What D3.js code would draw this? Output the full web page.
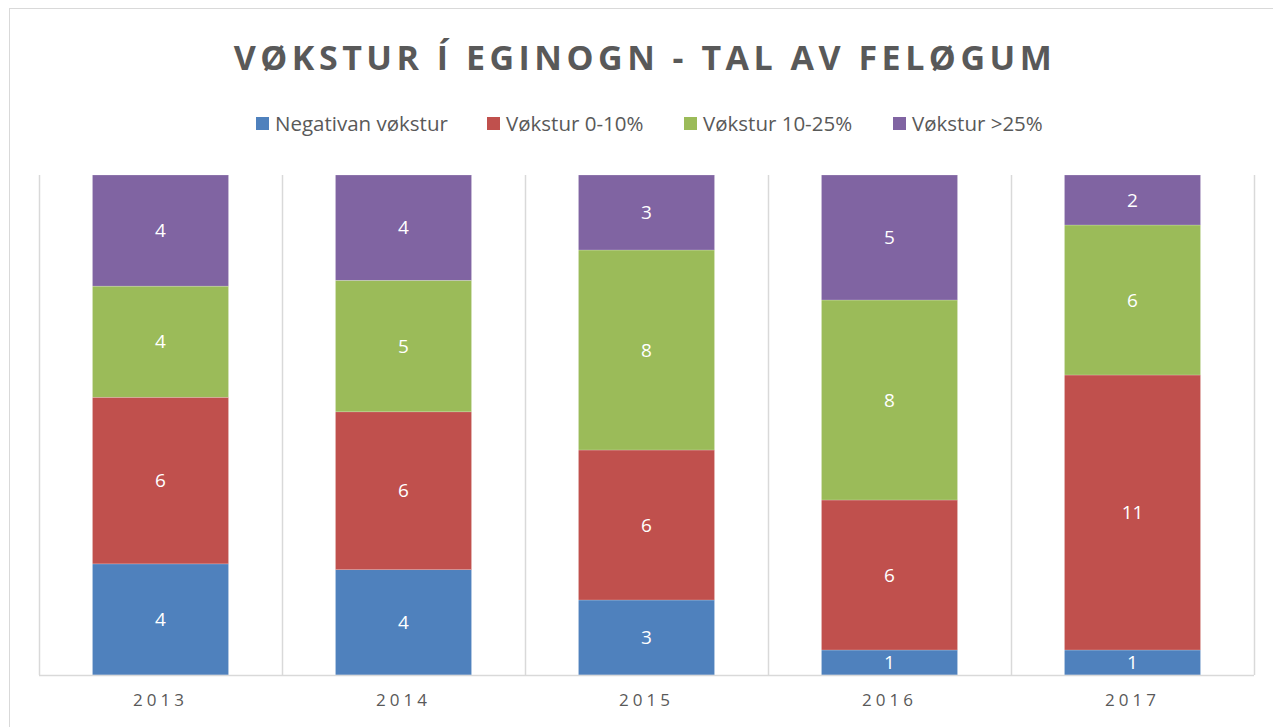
<!DOCTYPE html>
<html>
    <head>
        <script src="https://d3js.org/d3.v7.js"></script>
        <style>
            body{
                margin: 0;
                background: #fff;
            }
            text{
                font-family: 'Open Sans', sans-serif;
            }
        </style>
    </head>
    <body>
        <div class="graph"></div>
        <script>
            const years = ['2013', '2014', '2015', '2016', '2017']
            const seriesNames = ['Negativan vøkstur', 'Vøkstur 0-10%', 'Vøkstur 10-25%', 'Vøkstur >25%']
            const negativan = [4, 4, 3, 1, 1]
            const vokstur0 = [6, 6, 6, 6, 11]
            const vokstur10 = [4, 5, 8, 8, 6]
            const vokstur25 = [4, 4, 3, 5, 2]
            const colours = ['#4f81bd', '#c0504d', '#9bbb59', '#8064a2']

            const w = 1273
            const h = 727
            const margin = {top: 175, left: 39, right: 19, bottom: 52}

            const svg = d3.select('.graph')
                    .append('svg')
                    .attr('width', w)
                    .attr('height', h)

            // chart border
            svg.append('rect')
                .attr('x', 9.5)
                .attr('y', 8.5)
                .attr('width', w + 10)
                .attr('height', h + 10)
                .attr('fill', 'none')
                .attr('stroke', '#d9d9d9')

            const keys = ['neg', 'v0', 'v10', 'v25']
            const table = years.map((y, i) => ({
                year: y,
                neg: negativan[i],
                v0: vokstur0[i],
                v10: vokstur10[i],
                v25: vokstur25[i]
            }))

            const stacked = d3.stack()
                    .keys(keys)
                    .offset(d3.stackOffsetExpand)(table)

            const x = d3.scaleBand()
                    .domain(years)
                    .range([margin.left, w - margin.right - 0])
                    .paddingInner(0.44)
                    .paddingOuter(0.22)

            const y = d3.scaleLinear()
                    .domain([0, 1])
                    .range([h - margin.bottom, margin.top])

            // vertical grid lines at category borders
            const borders = years.map(d => x(d) - x.step() * 0.22).concat([x(years[years.length - 1]) + x.bandwidth() + x.step() * 0.22])
            svg.append('g')
                .selectAll('line')
                .data(borders)
                .enter()
                .append('line')
                .attr('x1', d => Math.round(d) + 0.5)
                .attr('x2', d => Math.round(d) + 0.5)
                .attr('y1', y(1))
                .attr('y2', y(0))
                .attr('stroke', '#d9d9d9')
                .attr('stroke-width', 1.5)

            const groups = svg.append('g')
                    .selectAll('g')
                    .data(stacked)
                    .enter()
                    .append('g')
                    .attr('fill', (d, i) => colours[i])

            groups.selectAll('rect')
                .data(d => d)
                .enter()
                .append('rect')
                .attr('x', d => x(d.data.year))
                .attr('width', x.bandwidth())
                .attr('y', d => y(d[1]))
                .attr('height', d => y(d[0]) - y(d[1]))
                .attr('stroke', '#fff')
                .attr('stroke-opacity', 0.4)
                .attr('stroke-width', 0.5)

            groups.each(function(s){
                d3.select(this).selectAll('text')
                    .data(s.map(d => ({d: d, v: d.data[s.key]})))
                    .enter()
                    .append('text')
                    .attr('x', d => x(d.d.data.year) + x.bandwidth() / 2)
                    .attr('y', d => (y(d.d[0]) + y(d.d[1])) / 2)
                    .attr('dy', '0.35em')
                    .attr('text-anchor', 'middle')
                    .attr('fill', '#fff')
                    .style('font-size', '19px')
                    .text(d => d.v)
            })

            // x axis
            const xAxis = svg.append('g')
                    .attr('transform', 'translate(0,' + y(0) + ')')
                    .call(d3.axisBottom(x).tickSize(0).tickPadding(19))
            xAxis.select('.domain')
                .attr('d', 'M' + margin.left + ',0.5H' + (w - margin.right))
                .attr('stroke', '#d9d9d9')
                .attr('stroke-width', 1.5)
            xAxis.selectAll('text')
                .attr('fill', '#595959')
                .style('font-size', '17px')
                .style('letter-spacing', '4px')
                .style('font-family', "'Open Sans', sans-serif")

            // title
            svg.append('text')
                .attr('x', 645)
                .attr('y', 70)
                .attr('text-anchor', 'middle')
                .attr('fill', '#595959')
                .style('font-size', '34px')
                .style('font-weight', 'bold')
                .style('letter-spacing', '4.5px')
                .text('VØKSTUR Í EGINOGN - TAL AV FELØGUM')

            // legend
            const legendX = [256, 487, 684, 893]
            const legend = svg.append('g')
                    .selectAll('g')
                    .data(seriesNames)
                    .enter()
                    .append('g')
                    .attr('transform', (d, i) => 'translate(' + legendX[i] + ',117)')
            legend.append('rect')
                .attr('width', 13)
                .attr('height', 13)
                .attr('fill', (d, i) => colours[i])
            legend.append('text')
                .attr('x', 19)
                .attr('y', 7)
                .attr('dy', '0.35em')
                .attr('fill', '#595959')
                .style('font-size', '20.5px')
                .text(d => d)
        </script>
    </body>
</html>
